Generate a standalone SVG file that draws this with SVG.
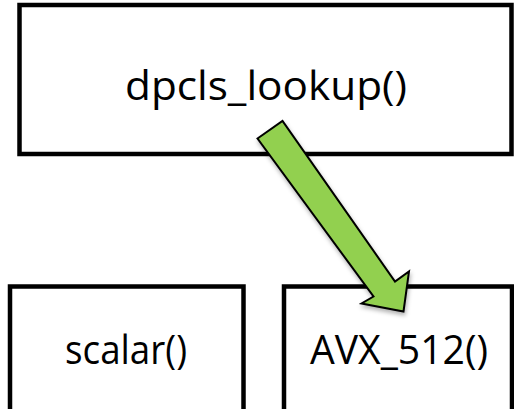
<svg xmlns="http://www.w3.org/2000/svg" width="514" height="409" viewBox="0 0 514 409">
<style>
.box{fill:#ffffff;stroke:#000000;stroke-width:4.5}
.lbl{font-family:"Open Sans","Noto Sans",sans-serif;font-size:40px;fill:#000000;text-anchor:middle}
.arrow{fill:#92D050;stroke:#000000;stroke-width:2;stroke-linejoin:miter}
</style>
<defs>
<filter id="sh" x="-20%" y="-20%" width="140%" height="140%">
<feDropShadow dx="1" dy="3" stdDeviation="2" flood-color="#000000" flood-opacity="0.3"/>
</filter>
</defs>
<g id="node-dpcls">
<rect class="box" x="19.5" y="5" width="492" height="149"/>
<text class="lbl" x="266" y="100" textLength="282" lengthAdjust="spacingAndGlyphs">dpcls_lookup()</text>
</g>
<g id="node-scalar">
<rect class="box" x="10" y="286.5" width="233.5" height="130"/>
<text class="lbl" x="126" y="364" textLength="122" lengthAdjust="spacingAndGlyphs">scalar()</text>
</g>
<g id="node-avx512">
<rect class="box" x="284" y="286.5" width="228" height="130"/>
<text class="lbl" x="399" y="364" textLength="178" lengthAdjust="spacingAndGlyphs">AVX_512()</text>
</g>
<g id="connectors">
<polygon class="arrow" filter="url(#sh)" points="257.5,138.5 282.5,121 395,281.5 409,271.5 403.5,311.5 361.5,303.5 373.5,296.5"/>
</g>
</svg>
